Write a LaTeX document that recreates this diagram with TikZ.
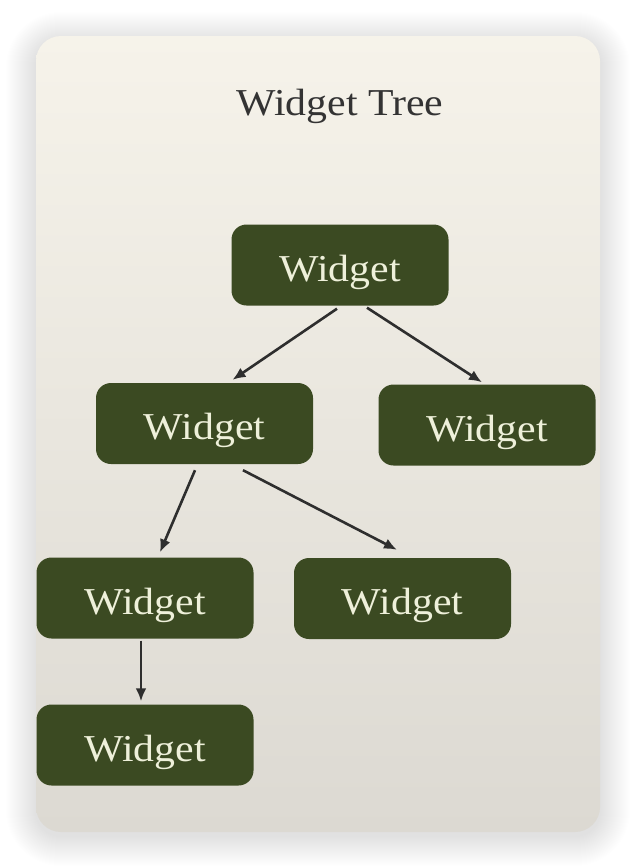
\documentclass[tikz,border=0pt]{standalone}
\usepackage{fontspec}
\setmainfont[FakeStretch=1.1]{Liberation Serif}
\usetikzlibrary{arrows.meta}
\definecolor{boxgreen}{HTML}{3B4A22}
\definecolor{boxtext}{HTML}{EEF0DA}
\definecolor{cardtop}{HTML}{F6F3EA}
\definecolor{cardbot}{HTML}{DCD9D2}
\definecolor{linegray}{HTML}{2E2E2E}
\definecolor{titlegray}{HTML}{333333}
\begin{document}
\begin{tikzpicture}[x=1pt,y=-1pt,
  wbox/.style={fill=boxgreen, rounded corners=15pt, inner sep=0pt,
    text=boxtext, font=\fontsize{38}{40}\selectfont,
    text height=36pt, text depth=4pt, minimum width=217pt, minimum height=81pt},
  conn/.style={draw=linegray, line width=2.6pt, -{Latex[length=13pt,width=11pt]}}]
\useasboundingbox (0,0) rectangle (636,868);
\fill[white] (0,0) rectangle (636,868);
% shadow
\foreach \i in {1,...,30} {
  \fill[black, opacity=0.004, rounded corners={25pt+\i pt}]
    ({36-\i},{36-\i+6}) rectangle ({600+\i},{832+\i+4});
}
% card
\shade[top color=cardtop, bottom color=cardbot, rounded corners=25pt]
  (36,36) rectangle (600,832);
% title
\node[anchor=base, text=titlegray, font=\fontsize{38}{40}\selectfont, inner sep=0pt]
  (title) at (340,115) {Widget Tree};
% nodes
\node[wbox] (root) at (340,265) {Widget};
\node[wbox] (ml) at (204.5,423.5) {Widget};
\node[wbox] (mr) at (487,425) {Widget};
\node[wbox] (bl) at (145,598) {Widget};
\node[wbox] (br) at (402.5,598.5) {Widget};
\node[wbox] (bb) at (145,745) {Widget};
% connectors
\draw[conn] ([shift={(-3,3)}]root.south) -- ([shift={(28,-3)}]ml.north);
\draw[conn] ([shift={(27,2)}]root.south) -- ([shift={(-5,-2)}]mr.north);
\draw[conn] ([shift={(-9.5,6)}]ml.south) -- ([shift={(15,-5)}]bl.north);
\draw[conn] ([shift={(38.5,6)}]ml.south) -- ([shift={(-5.5,-8)}]br.north);
\draw[conn] ([shift={(-4,2)}]bl.south) -- ([shift={(-4,-3)}]bb.north);
\end{tikzpicture}
\end{document}
